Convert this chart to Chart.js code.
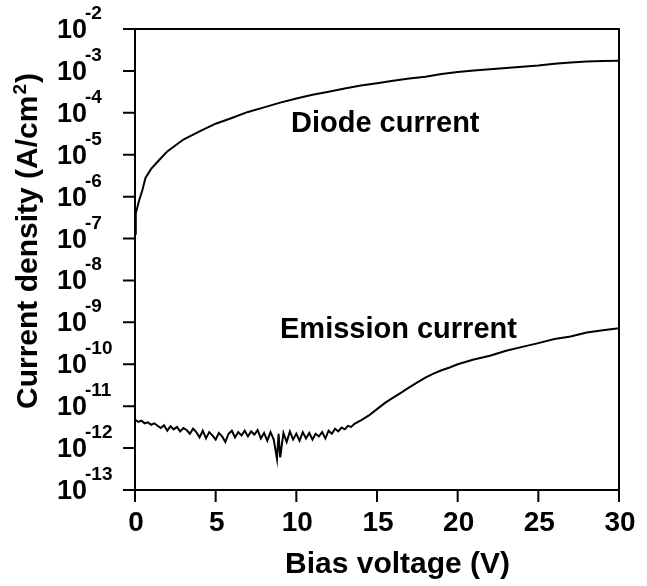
<!DOCTYPE html>
<html>
<head>
<meta charset="utf-8">
<script src="https://cdn.jsdelivr.net/npm/chart.js@4/dist/chart.umd.min.js"></script>
<style>
  html,body{margin:0;padding:0;background:#fff;}
  canvas{display:block;}
</style>
</head>
<body>
<canvas id="chart" width="647" height="586"></canvas>
<script>
/* ===== DATA ===== */

// x tick marks (bias voltage, V)
const xTicks = [0, 5, 10, 15, 20, 25, 30];

// y tick exponents (powers of ten, A/cm2)
const yExps = [-13, -12, -11, -10, -9, -8, -7, -6, -5, -4, -3, -2];

// diode current
const diodeV = [0, 0.05, 0.25, 0.45, 0.65, 1, 1.5, 2, 3, 4, 5, 6, 7, 8, 9, 10,
  11, 12, 13, 14, 15, 16, 17, 18, 19, 20, 21, 22, 23, 24, 25, 26, 27, 28, 29, 30];
const diodeJ = [1.3e-7, 4e-7, 8e-7, 1.4e-6, 2.8e-6, 4.6e-6, 7.5e-6, 1.2e-5, 2.3e-5,
  3.6e-5, 5.5e-5, 7.5e-5, 1.05e-4, 1.35e-4, 1.75e-4, 2.2e-4, 2.7e-4, 3.2e-4, 3.8e-4,
  4.5e-4, 5.1e-4, 5.8e-4, 6.6e-4, 7.3e-4, 8.4e-4, 9.4e-4, 1.02e-3, 1.1e-3, 1.18e-3,
  1.26e-3, 1.35e-3, 1.48e-3, 1.58e-3, 1.68e-3, 1.72e-3, 1.75e-3];

// emission current
const emisV = [0, 0.2, 0.4, 0.6, 0.8, 1.0, 1.2, 1.4, 1.6, 1.8, 2.0, 2.2, 2.4, 2.6,
  2.8, 3.0, 3.2, 3.4, 3.6, 3.8, 4.0, 4.2, 4.4, 4.6, 4.8, 5.0, 5.2, 5.4, 5.6, 5.8,
  6.0, 6.2, 6.4, 6.6, 6.8, 7.0, 7.2, 7.4, 7.6, 7.8, 8.0, 8.2, 8.4, 8.6, 8.8, 8.9,
  9.0, 9.2, 9.4, 9.6, 9.8, 10.0, 10.2, 10.4, 10.6, 10.8, 11.0, 11.2, 11.4, 11.6,
  11.8, 12.0, 12.2, 12.4, 12.6, 12.8, 13.0, 13.2, 13.4, 13.6, 14, 14.5, 15, 15.5,
  16, 16.5, 17, 17.5, 18, 18.5, 19, 19.5, 20, 21, 22, 23, 24, 25, 26, 27, 28, 29, 30];
const emisJ = [4.8e-12, 4.2e-12, 4.5e-12, 3.9e-12, 4.1e-12, 3.6e-12, 3.9e-12, 3.4e-12,
  3.0e-12, 3.5e-12, 2.6e-12, 3.3e-12, 2.8e-12, 3.2e-12, 2.5e-12, 3.0e-12, 2.7e-12,
  2.2e-12, 2.9e-12, 2.4e-12, 1.8e-12, 2.6e-12, 1.7e-12, 2.4e-12, 2.0e-12, 1.6e-12,
  2.3e-12, 1.9e-12, 1.4e-12, 2.2e-12, 2.6e-12, 1.8e-12, 2.4e-12, 2.0e-12, 2.6e-12,
  1.9e-12, 2.5e-12, 2.1e-12, 2.7e-12, 1.7e-12, 2.3e-12, 1.5e-12, 2.4e-12, 1.6e-12,
  0.55e-12, 2.2e-12, 0.6e-12, 2.3e-12, 1.4e-12, 2.5e-12, 1.6e-12, 2.2e-12, 1.5e-12,
  2.4e-12, 1.7e-12, 2.3e-12, 1.6e-12, 2.2e-12, 1.9e-12, 2.4e-12, 1.7e-12, 2.6e-12,
  2.2e-12, 2.9e-12, 2.5e-12, 3.1e-12, 2.8e-12, 3.4e-12, 3.2e-12, 3.8e-12, 4.6e-12,
  6.0e-12, 8.5e-12, 1.2e-11, 1.6e-11, 2.1e-11, 2.8e-11, 3.7e-11, 4.8e-11, 6.0e-11,
  7.2e-11, 8.4e-11, 1.0e-10, 1.3e-10, 1.6e-10, 2.1e-10, 2.6e-10, 3.2e-10, 4.0e-10,
  4.6e-10, 5.7e-10, 6.5e-10, 7.2e-10];

/* ===== TEXT + FRAME ===== */

const FONT = "'Liberation Sans', Arial, sans-serif";

const textPlugin = {
  id: "textPlugin",
  afterDraw(chart){
    const ctx = chart.ctx;
    const area = chart.chartArea;
    const xScale = chart.scales.x;
    const yScale = chart.scales.y;

    ctx.save();

    // frame top + right
    ctx.strokeStyle = "#000";
    ctx.lineWidth = 2;
    ctx.beginPath();
    ctx.moveTo(area.left - 1, area.top);
    ctx.lineTo(area.right, area.top);
    ctx.lineTo(area.right, area.bottom);
    ctx.stroke();

    // tick marks
    ctx.beginPath();
    xTicks.forEach(v => {
      const px = xScale.getPixelForValue(v);
      ctx.moveTo(px, area.bottom);
      ctx.lineTo(px, area.bottom + 12);
    });
    yExps.forEach(e => {
      const py = yScale.getPixelForValue(Math.pow(10, e));
      ctx.moveTo(area.left, py);
      ctx.lineTo(area.left - 12, py);
    });
    ctx.stroke();

    ctx.fillStyle = "#000";
    ctx.textBaseline = "alphabetic";

    // x tick labels
    ctx.textAlign = "center";
    ctx.font = "bold 28px " + FONT;
    xTicks.forEach(v => {
      ctx.fillText(String(v), xScale.getPixelForValue(v) + 1, 531);
    });

    ctx.textAlign = "left";

    // y tick labels 10^n
    yExps.forEach(e => {
      const py = yScale.getPixelForValue(Math.pow(10, e));
      ctx.font = "bold 27px " + FONT;
      ctx.fillText("10", 57, py + 9);
      ctx.font = "bold 19px " + FONT;
      ctx.fillText(String(e), 85, py - 10);
    });

    // curve labels
    ctx.font = "bold 29px " + FONT;
    ctx.fillText("Diode current", 291, 132);
    ctx.fillText("Emission current", 280, 338);

    // x title
    ctx.font = "bold 30px " + FONT;
    ctx.fillText("Bias voltage (V)", 285, 573);

    // y title
    ctx.translate(37, 409);
    ctx.rotate(-Math.PI / 2);
    ctx.font = "bold 30px " + FONT;
    const part1 = "Current density (A/cm";
    ctx.fillText(part1, 0, 0);
    let w = ctx.measureText(part1).width;
    ctx.font = "bold 19px " + FONT;
    ctx.fillText("2", w + 1, -11);
    w += ctx.measureText("2").width + 2;
    ctx.font = "bold 30px " + FONT;
    ctx.fillText(")", w, 0);

    ctx.restore();
  }
};

/* ===== CHART ===== */

const ctx = document.getElementById("chart");

new Chart(ctx, {
  type: "line",
  data: {
    datasets: [
      {
        label: "Diode current",
        data: diodeV.map((v, i) => ({x: v, y: diodeJ[i]})),
        borderColor: "#000",
        borderWidth: 2,
        pointRadius: 0,
        tension: 0
      },
      {
        label: "Emission current",
        data: emisV.map((v, i) => ({x: v, y: emisJ[i]})),
        borderColor: "#000",
        borderWidth: 2,
        pointRadius: 0,
        tension: 0
      }
    ]
  },
  options: {
    responsive: false,
    animation: false,
    layout: {padding: {top: 29, right: 28, left: 0, bottom: 0}},
    plugins: {
      legend: {display: false},
      tooltip: {enabled: false}
    },
    scales: {
      x: {
        type: "linear",
        min: 0,
        max: 30,
        afterBuildTicks(scale){
          scale.ticks = xTicks.map(v => ({value: v}));
        },
        afterFit(scale){
          scale.height = 96;
        },
        grid: {display: false},
        border: {display: true, color: "#000", width: 2},
        ticks: {display: false}
      },
      y: {
        type: "logarithmic",
        min: 1e-13,
        max: 1e-2,
        afterBuildTicks(scale){
          scale.ticks = yExps.map(e => ({value: Math.pow(10, e)}));
        },
        afterFit(scale){
          scale.width = 135;
        },
        grid: {display: false},
        border: {display: true, color: "#000", width: 2},
        ticks: {display: false}
      }
    }
  },
  plugins: [textPlugin]
});
</script>
</body>
</html>
